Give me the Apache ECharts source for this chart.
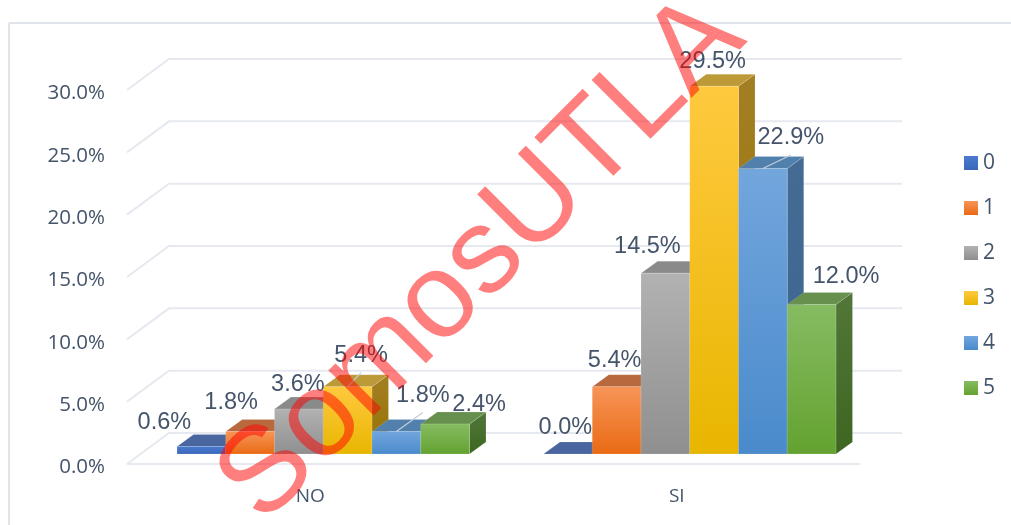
<!DOCTYPE html>
<html>
<head>
<meta charset="utf-8">
<title>SomosUTLA</title>
<script src="https://cdn.jsdelivr.net/npm/echarts@6/dist/echarts.min.js"></script>
<style>
  html, body { margin: 0; padding: 0; background: #fff; }
  #chart { width: 1011px; height: 525px; }
</style>
</head>
<body>
<div id="chart"></div>
<script>
const categories = ['NO', 'SI']
const seriesNames = ['0', '1', '2', '3', '4', '5']
const values0 = [0.6, 0.0]
const values1 = [1.8, 5.4]
const values2 = [3.6, 14.5]
const values3 = [5.4, 29.5]
const values4 = [1.8, 22.9]
const values5 = [2.4, 12.0]
const yTicks = [0, 5, 10, 15, 20, 25, 30]

const allValues = [values0, values1, values2, values3, values4, values5]

// colours per series: front top, front bottom, top face, side top, side bottom
const faceColors = [
  ['#4a7bd0', '#3a66b8', '#4a66a0', '#3e5a90', '#32507f'],
  ['#f79557', '#e96a14', '#b8693e', '#a85a2c', '#96501f'],
  ['#b2b2b2', '#8f8f8f', '#8a8a8a', '#6e6e6e', '#5c5c5c'],
  ['#ffc93f', '#e8b600', '#bd9a38', '#a37f24', '#967200'],
  ['#72a6dd', '#4a8acb', '#5280ad', '#456b94', '#396690'],
  ['#86bc62', '#63a230', '#678f4e', '#52773a', '#3d6620']
]

// label offset from the middle of the bar's front top edge, [series][category]
const labelOffsets = [
  [[-37, -24], [-2.5, -26]],
  [[-19, -29], [-2, -26]],
  [[-1, -25], [-18, -27]],
  [[13.5, -31], [-1.5, -25]],
  [[26.5, -36], [28, -30.5]],
  [[34, -20], [34.5, -27.5]]
]
// [series, category] pairs that get a thin line to their label
const leaders = [[3, 0], [4, 0], [4, 1]]

const wallDepth = [42, -31]
const barShift = [13, -10]
const barDepth = [16.5, -12]
const barShare = 0.133

const vGrad = (a, b) => new echarts.graphic.LinearGradient(0, 0, 0, 1, [
  { offset: 0, color: a },
  { offset: 1, color: b }
])

const fmt = v => v.toFixed(1) + '%'

const barRect = (api, s) => {
  const cat = api.value(0)
  const bottom = api.coord([cat, 0])
  const top = api.coord([cat, api.value(1)])
  const w = api.size([1, 0])[0] * barShare
  const x0 = bottom[0] + barShift[0] + (s - 3) * w
  return { x0, x1: x0 + w, yb: bottom[1] + barShift[1], yt: top[1] + barShift[1], w }
}

const renderBar = s => (params, api) => {
  const { x0, x1, yb, yt } = barRect(api, s)
  const [dx, dy] = barDepth
  const c = faceColors[s]
  const edge = { stroke: 'rgba(255,255,255,0.14)', lineWidth: 1 }
  const poly = (points, fill) => ({ type: 'polygon', shape: { points }, style: { fill, ...edge } })
  const children = [
    poly([[x1, yb], [x1 + dx, yb + dy], [x1 + dx, yt + dy], [x1, yt]], vGrad(c[3], c[4])),
    poly([[x0, yt], [x0 + dx, yt + dy], [x1 + dx, yt + dy], [x1, yt]], c[2])
  ]
  if (yb - yt > 0.5) {
    children.push({
      type: 'rect',
      shape: { x: x0, y: yt, width: x1 - x0, height: yb - yt },
      style: { fill: vGrad(c[0], c[1]), ...edge }
    })
  }
  return { type: 'group', children }
}

const renderLabel = s => (params, api) => {
  const cat = api.value(0)
  const { x0, x1, yt } = barRect(api, s)
  const cx = (x0 + x1) / 2
  const off = labelOffsets[s][cat]
  const children = []
  if (leaders.some(l => l[0] === s && l[1] === cat)) {
    children.push({
      type: 'line',
      shape: { x1: cx, y1: yt, x2: cx + off[0], y2: yt + off[1] + 17 },
      style: { stroke: '#c3cedd', lineWidth: 1.2 }
    })
  }
  children.push({
    type: 'text',
    x: cx + off[0],
    y: yt + off[1],
    style: {
      text: fmt(api.value(1)),
      fill: '#44546a',
      font: '23.5px "Liberation Sans", Arial, sans-serif',
      textAlign: 'center',
      textVerticalAlign: 'middle'
    }
  })
  return { type: 'group', children }
}

const renderWall = (params, api) => {
  const rect = params.coordSys
  const v = api.value(0)
  const y = api.coord([0, v])[1]
  const [dx, dy] = wallDepth
  const lineStyle = { stroke: '#e6e9f0', lineWidth: 2, fill: null }
  const children = [{
    type: 'polyline',
    shape: { points: [[rect.x, y], [rect.x + dx, y + dy], [rect.x + rect.width + dx, y + dy]] },
    style: lineStyle
  }]
  if (v === 0) {
    children.push({
      type: 'line',
      shape: { x1: rect.x, y1: y, x2: rect.x + rect.width, y2: y },
      style: lineStyle
    })
  }
  return { type: 'group', children }
}

const barSeries = seriesNames.map((name, s) => ({
  name,
  type: 'custom',
  z: 3,
  renderItem: renderBar(s),
  encode: { x: 0, y: 1 },
  itemStyle: { color: vGrad(faceColors[s][0], faceColors[s][1]) },
  data: allValues[s].map((v, i) => [i, v])
}))

const labelSeries = seriesNames.map((name, s) => ({
  name: 'label' + name,
  type: 'custom',
  z: 5,
  renderItem: renderLabel(s),
  encode: { x: 0, y: 1 },
  silent: true,
  data: allValues[s].map((v, i) => [i, v])
}))

const chart = echarts.init(document.getElementById('chart'))

chart.setOption({
  animation: false,
  backgroundColor: '#fff',
  grid: { left: 127, right: 151, top: 90, bottom: 61 },
  legend: {
    data: seriesNames,
    orient: 'vertical',
    left: 964,
    top: 151,
    padding: 0,
    icon: 'rect',
    itemWidth: 14,
    itemHeight: 14,
    itemGap: 21,
    textStyle: { color: '#44546a', fontSize: 21, fontFamily: '"Open Sans", sans-serif', lineHeight: 24 }
  },
  xAxis: {
    type: 'category',
    data: categories,
    axisLine: { show: false },
    axisTick: { show: false },
    axisLabel: { color: '#44546a', fontSize: 19, fontFamily: '"Open Sans", sans-serif', margin: 23 }
  },
  yAxis: {
    type: 'value',
    min: 0,
    max: 30,
    interval: 5,
    splitLine: { show: false },
    axisLine: { show: false },
    axisTick: { show: false },
    axisLabel: { color: '#44546a', fontSize: 20.5, fontFamily: '"Open Sans", sans-serif', margin: 22, verticalAlign: 'top', lineHeight: 7, formatter: fmt }
  },
  series: [
    {
      name: 'walls',
      type: 'custom',
      z: 1,
      renderItem: renderWall,
      encode: { y: 0 },
      silent: true,
      data: yTicks.map(v => [v])
    },
    ...barSeries,
    ...labelSeries
  ],
  graphic: [
    { type: 'line', z: 0, shape: { x1: 9, y1: 23, x2: 1011, y2: 23 }, style: { stroke: '#e0e5ec', lineWidth: 2 } },
    { type: 'line', z: 0, shape: { x1: 9, y1: 23, x2: 9, y2: 525 }, style: { stroke: '#e0e5ec', lineWidth: 2 } },
    {
      type: 'text',
      z: 100,
      x: 482,
      y: 260,
      rotation: Math.PI / 4,
      silent: true,
      style: {
        text: 'SomosUTLA',
        fill: 'rgba(255,0,0,0.5)',
        font: '121px "Liberation Sans", Arial, sans-serif',
        textAlign: 'center',
        textVerticalAlign: 'middle'
      }
    }
  ]
})

window.addEventListener('resize', () => chart.resize())
</script>
</body>
</html>
